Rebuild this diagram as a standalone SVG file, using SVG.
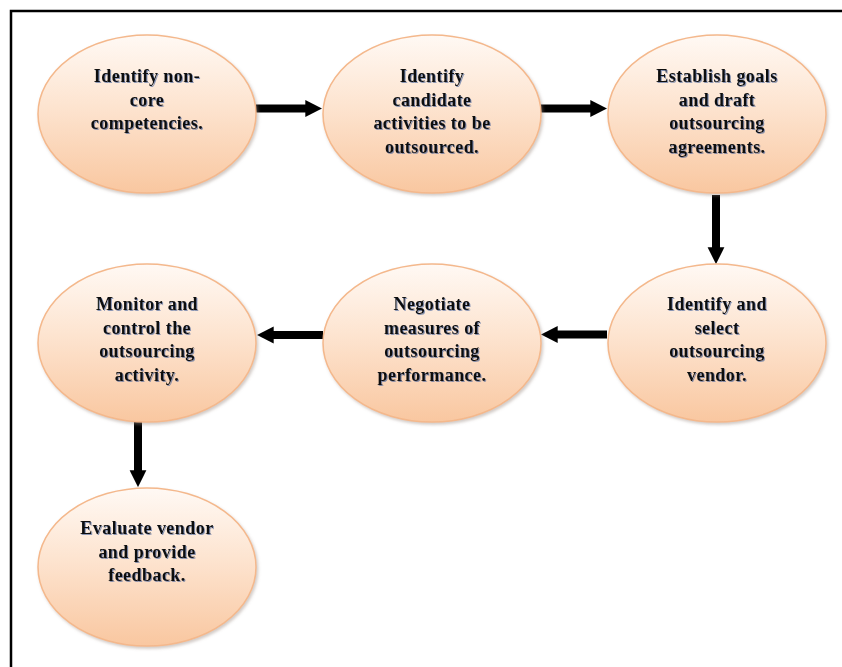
<svg xmlns="http://www.w3.org/2000/svg" width="842" height="667" viewBox="0 0 842 667">
  <defs>
    <linearGradient id="peach" x1="0" y1="0" x2="0" y2="1">
      <stop offset="0" stop-color="#FFF9F4"/>
      <stop offset="0.45" stop-color="#FDE4D0"/>
      <stop offset="1" stop-color="#F9C7A0"/>
    </linearGradient>
    <filter id="nodeShadow" x="-10%" y="-10%" width="125%" height="130%">
      <feDropShadow dx="1.5" dy="2" stdDeviation="1.5" flood-color="#9a8a80" flood-opacity="0.45"/>
    </filter>
    <filter id="textShadow" x="-5%" y="-20%" width="110%" height="150%">
      <feDropShadow dx="1" dy="1" stdDeviation="0.6" flood-color="#3c5a96" flood-opacity="0.6"/>
    </filter>
    <marker id="head" viewBox="0 0 10 10" refX="1" refY="5" markerWidth="2.1" markerHeight="2.2" orient="auto" markerUnits="strokeWidth">
      <path d="M0,0 L10,5 L0,10 Z" fill="#000"/>
    </marker>
  </defs>
  <style>
    .node ellipse { fill: url(#peach); stroke: #F4B88C; stroke-width: 1.5; filter: url(#nodeShadow); }
    .node text { font-family: "Liberation Serif", "Times New Roman", serif; font-weight: bold; font-size: 18px; letter-spacing: 0.45px; fill: #111; text-anchor: middle; filter: url(#textShadow); }
    .conn line { stroke: #000; stroke-width: 8; marker-end: url(#head); }
  </style>

  <rect width="842" height="667" fill="#fff"/>
  <!-- outer frame -->
  <path d="M11,670 L11,11 L845,11" fill="none" stroke="#000" stroke-width="2.5"/>

  <g class="conn" id="connectors">
    <line x1="256" y1="108.5" x2="307" y2="108.5"/>
    <line x1="540" y1="108.5" x2="592" y2="108.5"/>
    <line x1="716" y1="195" x2="716" y2="249"/>
    <line x1="607" y1="334.5" x2="556" y2="334.5"/>
    <line x1="323" y1="335" x2="272" y2="335"/>
    <line x1="138" y1="419" x2="138" y2="472"/>
  </g>

  <g class="node" id="n1">
    <ellipse cx="147" cy="114" rx="109" ry="79"/>
    <text x="147" y="82">Identify non-</text>
    <text x="147" y="105.5">core</text>
    <text x="147" y="129">competencies.</text>
  </g>
  <g class="node" id="n2">
    <ellipse cx="432" cy="114" rx="109" ry="79"/>
    <text x="432" y="82">Identify</text>
    <text x="432" y="105.5">candidate</text>
    <text x="432" y="129">activities to be</text>
    <text x="432" y="152.5">outsourced.</text>
  </g>
  <g class="node" id="n3">
    <ellipse cx="717" cy="114" rx="109" ry="79"/>
    <text x="717" y="82">Establish goals</text>
    <text x="717" y="105.5">and draft</text>
    <text x="717" y="129">outsourcing</text>
    <text x="717" y="152.5">agreements.</text>
  </g>
  <g class="node" id="n4">
    <ellipse cx="717" cy="343" rx="109" ry="79"/>
    <text x="717" y="310">Identify and</text>
    <text x="717" y="333.5">select</text>
    <text x="717" y="357">outsourcing</text>
    <text x="717" y="380.5">vendor.</text>
  </g>
  <g class="node" id="n5">
    <ellipse cx="432" cy="343" rx="109" ry="79"/>
    <text x="432" y="310">Negotiate</text>
    <text x="432" y="333.5">measures of</text>
    <text x="432" y="357">outsourcing</text>
    <text x="432" y="380.5">performance.</text>
  </g>
  <g class="node" id="n6">
    <ellipse cx="147" cy="343" rx="109" ry="79"/>
    <text x="147" y="310">Monitor and</text>
    <text x="147" y="333.5">control the</text>
    <text x="147" y="357">outsourcing</text>
    <text x="147" y="380.5">activity.</text>
  </g>
  <g class="node" id="n7">
    <ellipse cx="147" cy="567" rx="109" ry="79"/>
    <text x="147" y="534">Evaluate vendor</text>
    <text x="147" y="557.5">and provide</text>
    <text x="147" y="581">feedback.</text>
  </g>
</svg>
